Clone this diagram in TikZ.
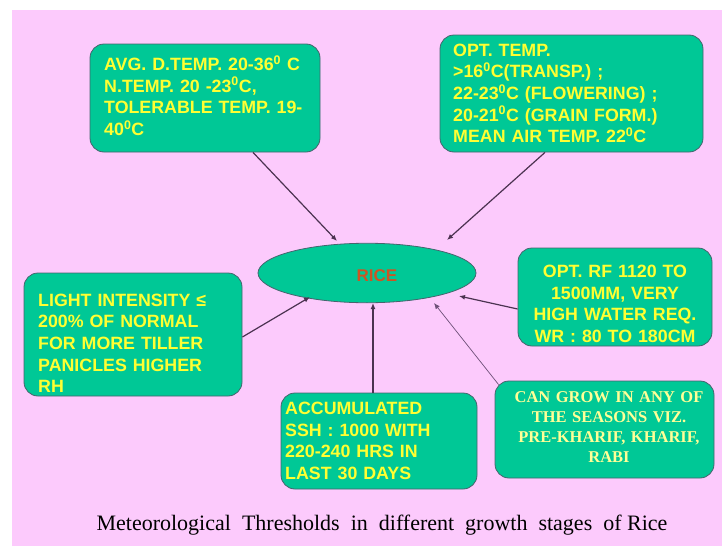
\documentclass[tikz,border=0pt]{standalone}
\usepackage{fontspec}
\setmainfont{Liberation Sans}
\newfontfamily\timesf{Liberation Serif}
\usetikzlibrary{arrows.meta,shapes.geometric}
\definecolor{bgpink}{RGB}{252,202,252}
\definecolor{boxgreen}{RGB}{0,200,150}
\definecolor{boxline}{RGB}{70,100,110}
\definecolor{txtyellow}{RGB}{255,255,50}
\definecolor{paleyellow}{RGB}{255,255,150}
\definecolor{ricered}{RGB}{205,85,35}
\definecolor{arrcol}{RGB}{75,50,80}
\definecolor{arrlight}{RGB}{110,80,120}
\begin{document}
\begin{tikzpicture}[x=1pt,y=-1pt,
  box/.style={rectangle,draw=boxline,line width=0.8pt,fill=boxgreen,rounded corners=14pt,inner sep=0pt},
  txt/.style={inner sep=0pt,text=txtyellow,font=\fontsize{17.8}{21.7}\selectfont\bfseries,text width=#1},
  arr/.style={draw=arrcol,line width=1.2pt,-{Latex[length=6pt,width=5pt]}},
  arrthin/.style={draw=arrlight,line width=0.7pt,-{Latex[length=6pt,width=5pt]}}]
\useasboundingbox (0,0) rectangle (722,546);
\fill[white] (0,0) rectangle (722,546);
\fill[bgpink] (12,10) rectangle (722,546);

% boxes
\node[box,minimum width=230pt,minimum height=108pt] (b1) at (205,98) {};
\node[box,minimum width=263pt,minimum height=117pt] (b2) at (571.5,93.5) {};
\node[box,minimum width=218pt,minimum height=123pt] (bL) at (133,334.5) {};
\node[box,minimum width=194pt,minimum height=98pt] (bR) at (615,297) {};
\node[box,minimum width=196pt,minimum height=96pt] (bM) at (379,441) {};
\node[box,minimum width=219pt,minimum height=97pt] (bBR) at (604.5,429.5) {};
\node[ellipse,draw=boxline,line width=0.8pt,fill=boxgreen,minimum width=218pt,minimum height=59.5pt,inner sep=0pt] (rice) at (367,273) {};

% texts
\node[txt=215pt,align=left,anchor=base west] (t1) at (104,70.5)
  {AVG. D.TEMP. 20-36\textsuperscript{0} C\\N.TEMP. 20 -23\textsuperscript{0}C,\\TOLERABLE TEMP. 19-\\40\textsuperscript{0}C};
\node[txt=245pt,align=left,anchor=base west] (t2) at (453,56)
  {OPT. TEMP.\\>16\textsuperscript{0}C(TRANSP.) ;\\22-23\textsuperscript{0}C (FLOWERING) ;\\20-21\textsuperscript{0}C (GRAIN FORM.)\\MEAN AIR TEMP. 22\textsuperscript{0}C};
\node[txt=200pt,align=left,anchor=base west] (tL) at (38,306)
  {LIGHT INTENSITY ≤\\200\% OF NORMAL\\FOR MORE TILLER\\PANICLES HIGHER\\RH};
\node[txt=190pt,align=center,anchor=base] (tR) at (615,277.5)
  {OPT. RF 1120 TO\\1500MM, VERY\\HIGH WATER REQ.\\WR : 80 TO 180CM};
\node[txt=190pt,align=left,anchor=base west] (tM) at (285,414.5)
  {ACCUMULATED\\SSH : 1000 WITH\\220-240 HRS IN\\LAST 30 DAYS};
\node[inner sep=0pt,text=paleyellow,font=\timesf\fontsize{16.5}{20}\selectfont\bfseries,text width=215pt,align=center,anchor=base] (tBR) at (609,402)
  {CAN GROW IN ANY OF\\THE SEASONS VIZ.\\PRE-KHARIF, KHARIF,\\RABI};
\node[inner sep=0pt,text=ricered,font=\fontsize{17}{20}\selectfont\bfseries,anchor=base] (ricelbl) at (377,281) {RICE};

% connectors
\draw[arr] ([shift={(48,0)}]b1.south) -- ([shift={(-30,-32)}]rice.center);
\draw[arr] ([shift={(-26.5,0)}]b2.south) -- ([shift={(80,-33)}]rice.center);
\draw[arr] ([shift={(0,2.5)}]bL.east) -- ([shift={(-57,24)}]rice.center);
\draw[arr] ([shift={(-6,0)}]bM.north) -- ([shift={(6,30)}]rice.center);
\draw[arrthin] ([shift={(4,4)}]bBR.north west) -- ([shift={(67,30)}]rice.center);
\draw[arr] ([shift={(0,12)}]bR.west) -- ([shift={(92,23)}]rice.center);

% caption
\node[inner sep=0pt,font=\timesf\fontsize{22}{26}\selectfont,anchor=base] (cap) at (382,530)
  {Meteorological\ \ Thresholds\ \ in\ \ different\ \ growth\ \ stages\ \ of\ Rice};
\end{tikzpicture}
\end{document}
